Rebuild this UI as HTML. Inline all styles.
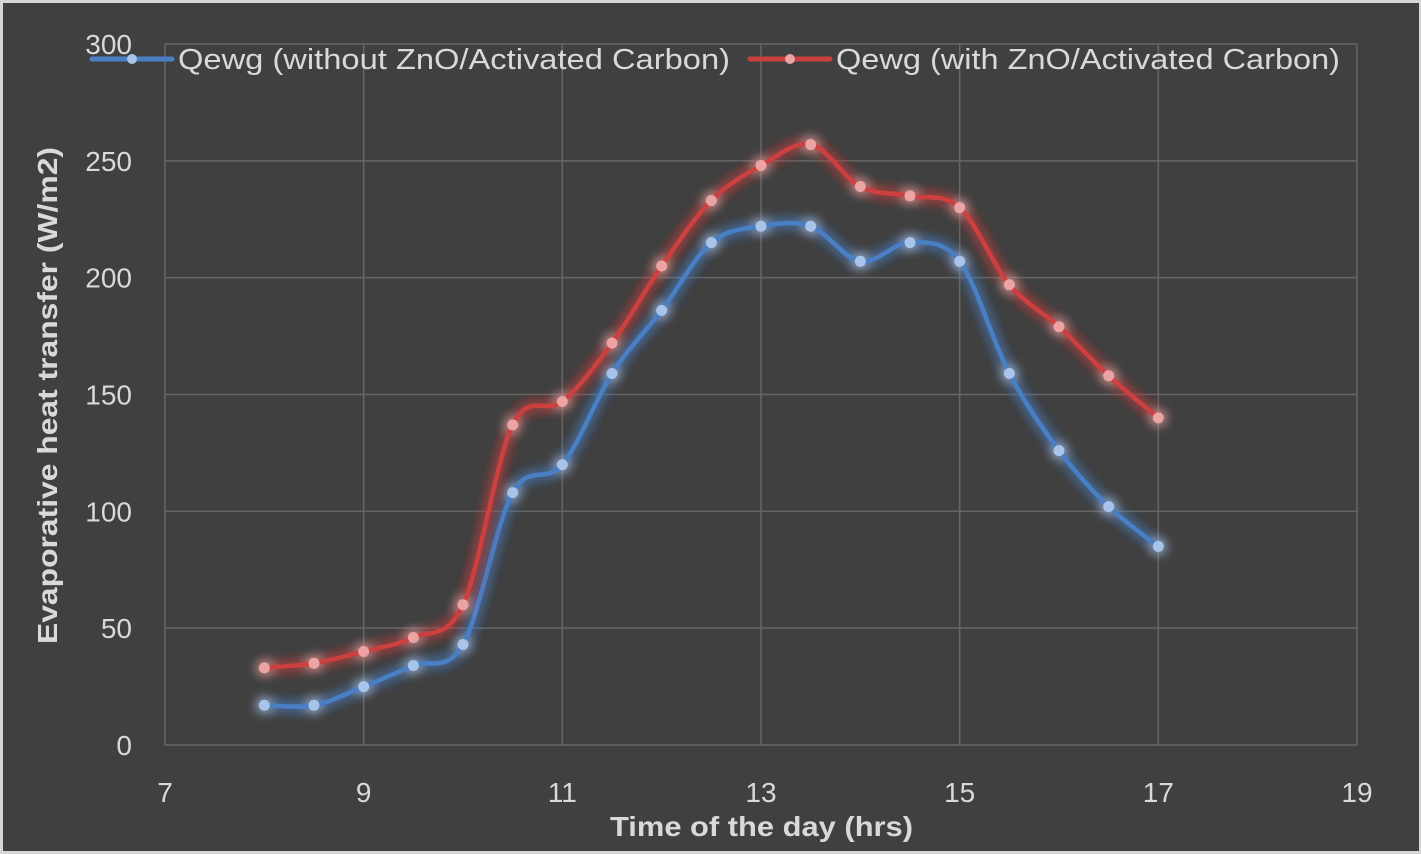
<!DOCTYPE html>
<html><head><meta charset="utf-8"><style>
html,body{margin:0;padding:0;background:#d9d9d9;}
#wrap{position:absolute;left:0;top:0;width:1421px;height:854px;box-sizing:border-box;border:3px solid #d6d6d6;border-right-width:2px;border-bottom-width:3px;background:#404040;}
svg{position:absolute;left:0;top:0;}
text{font-family:"Liberation Sans",sans-serif;fill:#d9d9d9;}
</style></head><body>
<div id="wrap"></div>
<svg id="chart" width="1421" height="854">
<defs>
<filter id="glowB" x="-10%" y="-10%" width="120%" height="120%"><feGaussianBlur stdDeviation="6" result="b"/><feMerge><feMergeNode in="b"/><feMergeNode in="b"/><feMergeNode in="SourceGraphic"/></feMerge></filter>
<filter id="glowR" x="-10%" y="-10%" width="120%" height="120%"><feGaussianBlur stdDeviation="6" result="b"/><feMerge><feMergeNode in="b"/><feMergeNode in="b"/><feMergeNode in="SourceGraphic"/></feMerge></filter>
</defs>
</svg>
<script>
const xValues=[8,8.5,9,9.5,10,10.5,11,11.5,12,12.5,13,13.5,14,14.5,15,15.5,16,16.5,17];
const seriesWithout=[17,17,25,34,43,108,120,159,186,215,222,222,207,215,207,159,126,102,85];
const seriesWith=[33,35,40,46,60,137,147,172,205,233,248,257,239,235,230,197,179,158,140];
const xTicks=[7,9,11,13,15,17,19];
const yTicks=[0,50,100,150,200,250,300];
const seriesNames=["Qewg (without ZnO/Activated Carbon)","Qewg (with ZnO/Activated Carbon)"];

const NS="http://www.w3.org/2000/svg";
const svg=document.getElementById('chart');
const X0=165,X1=1357,Y0=745,Y1=44;
const xs=v=>X0+(v-7)/(19-7)*(X1-X0);
const ys=v=>Y0-(v-0)/(300-0)*(Y0-Y1);
function mk(tag,attrs,parent){const e=document.createElementNS(NS,tag);for(const k in attrs)e.setAttribute(k,attrs[k]);(parent||svg).appendChild(e);return e;}

yTicks.forEach(t=>{
  const l=mk('line',{x1:X0,x2:X1,y1:ys(t),y2:ys(t),stroke:'#666666','stroke-width':1.5});
  
  
  const tx=mk('text',{x:X0-33,y:ys(t)+10,'text-anchor':'end','font-size':28});
  tx.textContent=t;
  
  
});
xTicks.forEach(t=>{
  const l=mk('line',{x1:xs(t),x2:xs(t),y1:Y1,y2:Y0,stroke:'#666666','stroke-width':1.5});
  
  
  const tx=mk('text',{x:xs(t),y:Y0+57,'text-anchor':'middle','font-size':28});
  tx.textContent=t;
  
  
});

function smooth(pts){
  let d='M'+pts[0][0]+','+pts[0][1];
  for(let i=0;i<pts.length-1;i++){
    const p0=pts[i-1]||pts[i],p1=pts[i],p2=pts[i+1],p3=pts[i+2]||p2;
    const c1=[p1[0]+(p2[0]-p0[0])/6,p1[1]+(p2[1]-p0[1])/6];
    const c2=[p2[0]-(p3[0]-p1[0])/6,p2[1]-(p3[1]-p1[1])/6];
    d+=' C'+c1+' '+c2+' '+p2;
  }
  return d;
}
function drawSeries(vals,color,marker,filt,name){
  const g=mk('g',{filter:'url(#'+filt+')'});
  
  
  const pts=xValues.map((x,i)=>[xs(x),ys(vals[i])]);
  const p=mk('path',{d:smooth(pts),fill:'none',stroke:color,'stroke-width':4.5,'stroke-linecap':'round'},g);
  
  
  pts.forEach(pt=>{
    const c=mk('circle',{cx:pt[0],cy:pt[1],r:5.5,fill:marker},g);
    
    
  });
}
drawSeries(seriesWithout,'#4a7fc4','#a9c4ea','glowB','series-without');
drawSeries(seriesWith,'#cc3f3f','#eba3a3','glowR','series-with');

function legend(x,color,marker,label,name,len){
  const g=mk('g',{});
  
  
  mk('line',{x1:x,x2:x+80,y1:59,y2:59,stroke:color,'stroke-width':5,'stroke-linecap':'round'},g);
  mk('circle',{cx:x+40,cy:59,r:5,fill:marker},g);
  const t=mk('text',{x:x+86,y:69,'font-size':29,textLength:len,lengthAdjust:'spacingAndGlyphs'},g);
  t.textContent=label;
}
legend(92,'#4a7fc4','#a9c4ea',seriesNames[0],'legend-entry-without',552);
legend(750,'#cc3f3f','#eba3a3',seriesNames[1],'legend-entry-with',504);

const xt=mk('text',{x:610,y:836,'font-size':28,'font-weight':'bold',textLength:303,lengthAdjust:'spacingAndGlyphs'});
xt.textContent='Time of the day (hrs)';


const yt=mk('text',{x:0,y:0,'font-size':28,'font-weight':'bold',textLength:497,lengthAdjust:'spacingAndGlyphs',transform:'translate(57,644) rotate(-90)'});
yt.textContent='Evaporative heat transfer (W/m2)';


</script>
</body></html>
